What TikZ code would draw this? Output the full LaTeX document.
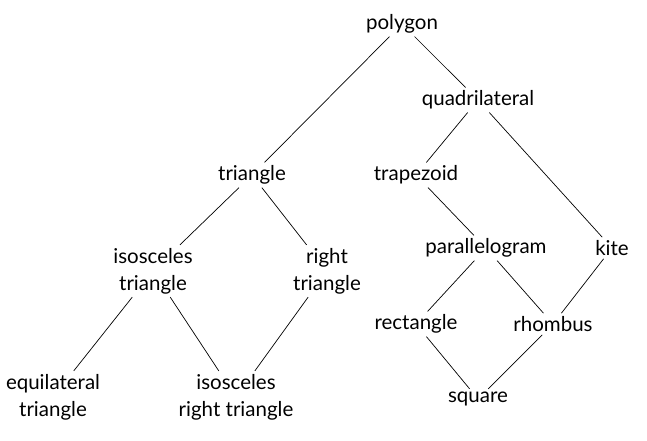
\documentclass[tikz,border=0pt]{standalone}
\usepackage{fontspec}
\setmainfont{Lato}
\begin{document}
\begin{tikzpicture}[x=1pt,y=-1pt,
  lbl/.style={align=center,font=\fontsize{20.5}{27}\selectfont,inner sep=3pt,yshift=-2pt},
  edge/.style={line width=0.7pt}]
\useasboundingbox (0,0) rectangle (647,440);
\node[lbl] (poly) at (402,22) {polygon};
\node[lbl] (quad) at (478,98) {quadrilateral};
\node[lbl] (tri) at (252,173) {triangle};
\node[lbl] (trap) at (416,173) {trapezoid};
\node[lbl] (isos) at (153,269) {isosceles\\triangle};
\node[lbl] (right) at (327,269) {right\\triangle};
\node[lbl] (para) at (486,246) {parallelogram};
\node[lbl] (kite) at (612,246) {kite};
\node[lbl] (rect) at (416,322) {rectangle};
\node[lbl] (rhom) at (553,322) {rhombus};
\node[lbl] (equi) at (53,395) {equilateral\\triangle};
\node[lbl] (isr) at (236,395) {isosceles\\right triangle};
\node[lbl] (sq) at (478,397) {square};
\draw[edge] (poly) -- (tri);
\draw[edge] (poly) -- (quad);
\draw[edge] (quad) -- (trap);
\draw[edge] (quad) -- (kite);
\draw[edge] (tri) -- (isos);
\draw[edge] (tri) -- (right);
\draw[edge] (trap) -- (para);
\draw[edge] (para) -- (rect);
\draw[edge] (para) -- (rhom);
\draw[edge] (kite) -- (rhom);
\draw[edge] (isos) -- (equi);
\draw[edge] (isos) -- (isr);
\draw[edge] (right) -- (isr);
\draw[edge] (rect) -- (sq);
\draw[edge] (rhom) -- (sq);
\end{tikzpicture}
\end{document}
